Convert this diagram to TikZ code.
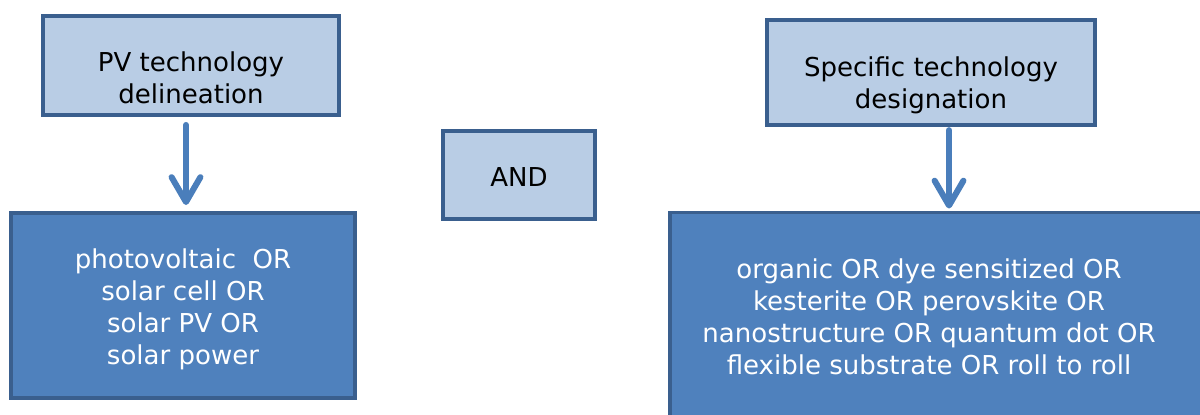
\documentclass[tikz,border=0pt]{standalone}
\usepackage{fontspec}
\setmainfont{DejaVu Sans}
\usetikzlibrary{arrows.meta}
\definecolor{lightfill}{HTML}{B9CDE5}
\definecolor{darkfill}{HTML}{4F81BD}
\definecolor{boxline}{HTML}{3A5F8E}
\definecolor{flowblue}{HTML}{4A7EBB}
\begin{document}
\begin{tikzpicture}[x=0.025cm,y=-0.025cm,
	lightbox/.style={draw=boxline,line width=2.8pt,fill=lightfill,inner sep=0pt},
	darkbox/.style={lightbox,fill=darkfill},
	boxtext/.style={align=center,font=\fontsize{18.5}{22.8}\selectfont,inner sep=0pt},
	flow/.style={draw=flowblue,line width=4.3pt,line cap=round,
		-{Straight Barb[length=0.62cm,width=0.72cm,line cap=round,line join=round]}}]
	\useasboundingbox (0,0) rectangle (1200,414);
	\clip (0,0) rectangle (1200,414);
	\node[lightbox,minimum width=7.4cm,minimum height=2.475cm] (pv) at (191,65.5) {};
	\node[boxtext] (pvtext) at (191,78) {PV technology\\delineation};
	\node[darkbox,minimum width=8.6cm,minimum height=4.625cm] (terms) at (183,305.5) {};
	\node[boxtext,text=white] (termstext) at (183,309) {photovoltaic\ \ OR\\solar cell OR\\solar PV OR\\solar power};
	\node[lightbox,minimum width=3.8cm,minimum height=2.2cm] (and) at (519,175) {};
	\node[boxtext] (andtext) at (519,177) {AND};
	\node[lightbox,minimum width=8.2cm,minimum height=2.625cm] (spec) at (931,72.5) {};
	\node[boxtext] (spectext) at (931,85) {Specific technology\\designation};
	\node[darkbox,minimum width=13.6cm,minimum height=5.4cm] (kinds) at (942.5,320.5) {};
	\node[boxtext,text=white] (kindstext) at (929,317)
		{organic OR dye sensitized OR\\kesterite OR perovskite OR\\nanostructure OR quantum dot OR\\flexible substrate OR roll to roll};
	\draw[flow,shorten <=0.2cm,shorten >=0.15cm] ([xshift=-0.125cm]pv.south) -- ([xshift=-0.125cm]pv.south |- terms.north);
	\draw[flow,shorten <=0.08cm,shorten >=0.05cm] ([xshift=0.45cm]spec.south) -- ([xshift=0.45cm]spec.south |- kinds.north);
\end{tikzpicture}
\end{document}
